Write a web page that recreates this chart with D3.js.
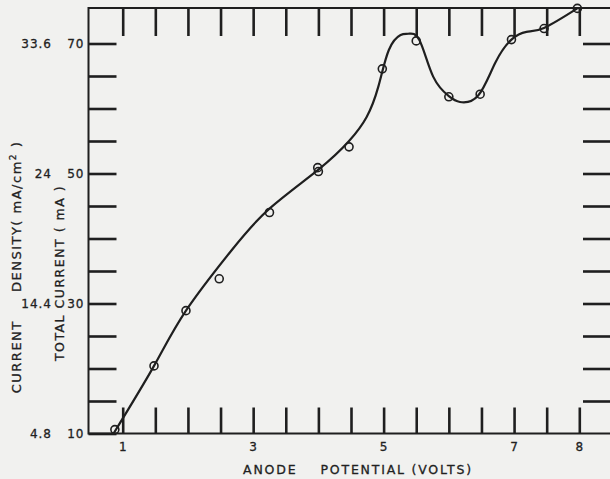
<!DOCTYPE html>
<html>
<head>
<meta charset="utf-8">
<script src="https://cdn.jsdelivr.net/npm/d3@7"></script>
<style>
  body { margin: 0; background: #f1f1ef; }
  svg { display: block; }
  text { font-family: "DejaVu Sans", sans-serif; fill: #222; }
</style>
</head>
<body>
<svg width="610" height="479"></svg>
<script>
// measured points (circles)
var voltage = [0.88, 1.48, 1.97, 2.48, 3.25, 3.99, 4.0, 4.47, 4.98, 5.5, 6.0, 6.48, 6.96, 7.46, 7.97];
var current = [10.6, 20.4, 28.9, 33.8, 44.0, 50.9, 50.3, 54.1, 66.1, 70.4, 61.8, 62.2, 70.6, 72.3, 75.4];

// hand drawn smooth curve
var curveV = [0.86, 1.48, 1.97, 2.67, 3.25, 4.0, 4.47, 4.74, 4.92, 5.08, 5.26, 5.38, 5.55, 5.76, 6.0, 6.17, 6.45, 6.71, 6.96, 7.19, 7.46, 7.97];
var curveI = [10.0, 20.4, 28.9, 38.2, 44.6, 50.6, 55.0, 58.7, 63.4, 69.0, 71.3, 71.5, 70.5, 64.9, 61.9, 61.0, 62.0, 67.0, 70.6, 71.8, 72.4, 75.4];

var xTicks = d3.range(1, 8.01, 0.5);
var xLabels = [1, 3, 5, 7, 8];
var yTicks = d3.range(10, 70.01, 5);
var yLabels = [10, 30, 50, 70];
var densityLabels = ["4.8", "14.4", "24", "33.6"];

var svg = d3.select("svg");
var ink = "#1f1f1f";

var frameL = 88.5, frameR = 612, frameT = 8, frameB = 433.5;

var x = d3.scaleLinear().domain([1, 8]).range([122.7, 579.3]);
var y = d3.scaleLinear().domain([10, 70]).range([433.5, 43.5]);

// bottom axis, ticks pointing in
svg.append("g")
    .attr("transform", "translate(0," + frameB + ")")
    .call(d3.axisBottom(x).tickValues(xTicks).tickSizeInner(-26).tickSizeOuter(0).tickPadding(9)
        .tickFormat(function (d) { return xLabels.indexOf(d) >= 0 ? d : ""; }));

// top axis
svg.append("g")
    .attr("transform", "translate(0," + frameT + ")")
    .call(d3.axisTop(x).tickValues(xTicks).tickSizeInner(-28).tickSizeOuter(0).tickFormat(""));

// left axis
svg.append("g")
    .attr("transform", "translate(" + frameL + ",0)")
    .call(d3.axisLeft(y).tickValues(yTicks).tickSizeInner(-28).tickSizeOuter(0).tickPadding(4)
        .tickFormat(function (d) { return yLabels.indexOf(d) >= 0 ? d : ""; }));

// right axis
svg.append("g")
    .attr("transform", "translate(" + frameR + ",0)")
    .call(d3.axisRight(y).tickValues(yTicks.filter(function (d) { return d > 10; })).tickSizeInner(-29).tickSizeOuter(0).tickFormat(""));

svg.selectAll(".domain").remove();
svg.selectAll(".tick line").attr("stroke", ink).attr("stroke-width", 2.6);
svg.selectAll(".tick text")
    .style("font-family", "DejaVu Sans, sans-serif")
    .style("font-size", "12px")
    .style("letter-spacing", "1px")
    .attr("fill", ink)
    .attr("stroke", ink).attr("stroke-width", 0.3);

// frame
svg.append("rect")
    .attr("x", frameL).attr("y", frameT)
    .attr("width", frameR - frameL).attr("height", frameB - frameT)
    .attr("fill", "none").attr("stroke", ink).attr("stroke-width", 2);

// current density labels
svg.append("g").selectAll("text")
    .data(yLabels)
    .enter().append("text")
    .attr("x", 52)
    .attr("y", function (d) { return y(d); })
    .attr("dy", "0.36em")
    .attr("text-anchor", "end")
    .attr("stroke", ink).attr("stroke-width", 0.3)
    .style("font-size", "12px")
    .style("letter-spacing", "1px")
    .text(function (d, i) { return densityLabels[i]; });

// curve
var line = d3.line()
    .x(function (d) { return x(d[0]); })
    .y(function (d) { return y(d[1]); })
    .curve(d3.curveNatural);

svg.append("path")
    .datum(d3.zip(curveV, curveI))
    .attr("d", line)
    .attr("fill", "none")
    .attr("stroke", ink)
    .attr("stroke-width", 2.2);

// points
svg.append("g").selectAll("circle")
    .data(d3.zip(voltage, current))
    .enter().append("circle")
    .attr("cx", function (d) { return x(d[0]); })
    .attr("cy", function (d) { return y(d[1]); })
    .attr("r", 4)
    .attr("fill", "none")
    .attr("stroke", ink)
    .attr("stroke-width", 1.6);

// axis titles
svg.append("text")
    .attr("x", 358).attr("y", 474)
    .attr("text-anchor", "middle")
    .attr("stroke", ink).attr("stroke-width", 0.3)
    .style("font-size", "12.5px")
    .style("letter-spacing", "1.8px")
    .attr("xml:space", "preserve")
    .text("ANODE    POTENTIAL (VOLTS)");

svg.append("text")
    .attr("transform", "translate(21,267) rotate(-90)")
    .attr("text-anchor", "middle")
    .attr("stroke", ink).attr("stroke-width", 0.3)
    .style("font-size", "13px")
    .style("letter-spacing", "1.5px")
    .attr("xml:space", "preserve")
    .html("CURRENT     DENSITY( mA/cm<tspan dy='-5' font-size='9'>2</tspan><tspan dy='5'> )</tspan>");

svg.append("text")
    .attr("transform", "translate(64,273) rotate(-90)")
    .attr("text-anchor", "middle")
    .attr("stroke", ink).attr("stroke-width", 0.3)
    .style("font-size", "12.5px")
    .style("letter-spacing", "1.5px")
    .attr("xml:space", "preserve")
    .text("TOTAL CURRENT ( mA )");
</script>
</body>
</html>
